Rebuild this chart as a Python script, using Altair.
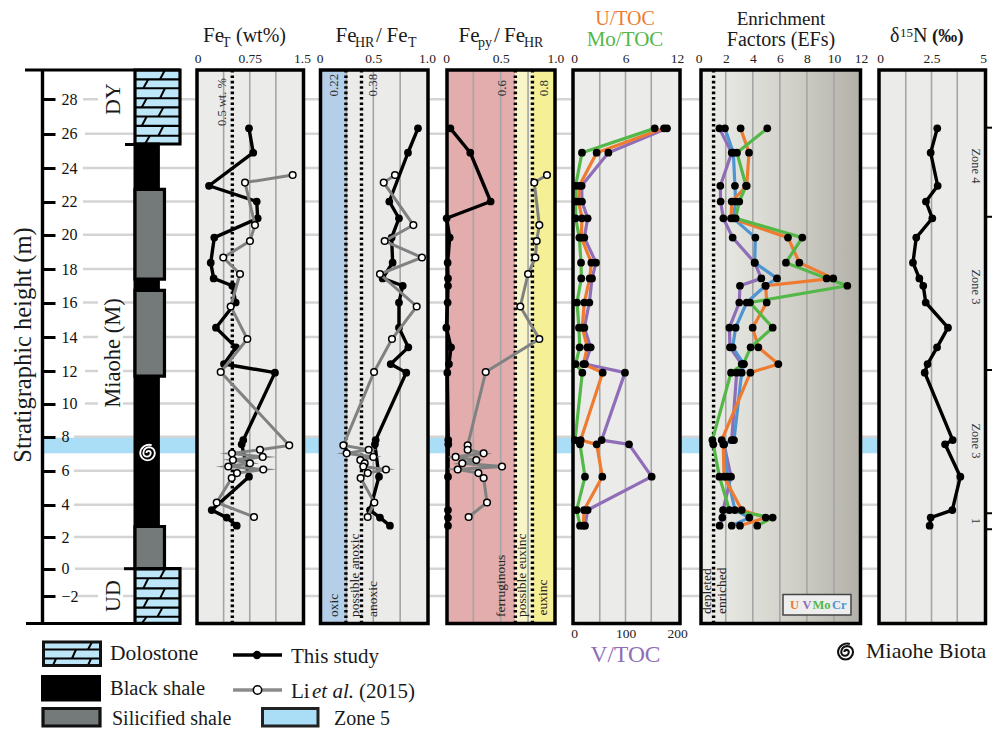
import altair as alt
import pandas as pd

TICKS_H = [-4, -2, 0, 2, 4, 6, 8, 10, 12, 14, 16, 18, 20, 22, 24, 26, 28, 29.7]
AXIS_H = [-2, 0, 2, 4, 6, 8, 10, 12, 14, 16, 18, 20, 22, 24, 26, 28]
GRID_START = [76, 75, 74, 74, 74, 74, 85, 85, 83, 83, 83, 83, 83, 83, 85, 83]

L = [26.31, 24.89, 22.94, 22.0, 20.99, 19.83, 18.37, 17.44, 17.0, 16.0, 14.54, 13.39,
     12.41, 11.9, 7.8, 7.55, 5.65, 3.67, 3.2, 2.7]
N = None
fet_black = [.739, .80, .165, .85, .864, .241, .19, .232, .50, .548, .265, .552, .38, 1.112, .657, .634, .739, .204, .419, .563]
hr_black = [.916, .823, N, .649, .739, .671, .680, .587, .774, .739, .739, .826, .662, .807, .522, .515, .553, .469, .562, .655]
py_black = [.040, .222, N, .408, .006, .034, .015, .018, .018, .015, .003, .046, .027, .012, .021, .021, .018, .018, .018, .018]
mo_toc = [9.40, .93, .19, .19, .19, .62, .82, .85, N, .35, .58, .66, .19, .97, .12, .70, 1.28, .31, N, .70]
u_toc = [10.49, 2.64, .62, .54, .93, .85, 2.02, 1.83, N, 1.20, .97, 1.55, 1.09, 3.34, .78, 2.64, 3.30, 1.17, N, 1.09]
v_toc = [180.6, 66.7, 14.9, 15.5, 26.5, 20.1, 42.7, 35, N, 29.8, 20.1, 32.4, 21.4, 99, 53.7, 106.8, 150.8, 26.5, N, 21.4]
ef_u = [3.10, 3.72, 3.55, 2.44, 2.39, 6.60, 7.44, 9.95, 4.95, 5.03, 3.99, 4.41, 5.89, 3.82, 1.70, 1.82, 1.87, 3.18, 4.95, 3.05]
ef_mo = [5.07, 2.83, 3.50, 3.00, 2.73, 7.66, 6.45, 9.46, 10.99, 3.79, 5.47, 3.84, 3.30, 2.39, 1.01, 1.08, 1.53, 2.27, 5.47, 4.33]
ef_v = [1.53, 2.44, 1.60, 1.62, 1.82, 2.51, 4.14, 4.63, 3.05, 3.00, 2.27, 2.31, 3.18, 2.81, 2.44, 1.87, 2.39, 1.80, 1.75, 1.55]
ef_cr = [1.94, 2.56, 2.68, 2.73, 2.56, 4.19, 4.14, 5.79, 4.93, 3.55, 2.73, 2.51, 3.35, 3.18, 2.61, 1.87, 2.14, 2.68, 3.74, 2.44]
d15n = [2.78, 2.46, 2.80, 2.23, 2.54, 1.76, 1.60, 1.91, 2.10, 2.22, 3.30, 2.77, 2.31, 2.17, 3.53, 3.16, 3.90, 3.51, 2.46, 2.41]

LI = [23.58, 23.13, 20.58, 19.63, 18.67, 17.70, 15.77, 13.88, 11.94, 7.49, 7.23, 7.02, 6.81, 6.63,
      6.44, 6.25, 6.07, 5.86, 5.57, 4.13, 3.24]
fet_li = [1.366, .682, .825, .753, .370, .610, .476, .715, .333, 1.317, .897, .495, .936, .509, .753, .442, .944, .567, .491, .276, .811]
hr_li = [.702, .597, .873, .606, .953, .562, .904, .674, .507, .221, .457, .252, .500, .379, .420, .407, .618, .448, .382, .510, .448]
py_li = [.923, .807, .853, .829, .817, .750, .679, .853, .363, .198, .198, .344, .088, .277, .149, .512, .107, .296, .344, .375, .207]

ZONE_TICKS = [26.35, 21.08, 12.06, 3.47, 2.48]
BIOTA_BAND = [7.94, 7.02]

# lithology: (top, bottom, width fraction)
dolo_units = [(29.7, 25.4, 1.0), (0, -4, 1.0)]
black_units = [(25.4, 0, 0.52)]
sil_units = [(22.72, 17.4, 0.655), (16.72, 11.69, 0.655), (2.65, 0, 0.655)]
dolo_rows_top = [29.7, 29.16, 28.64, 28.06, 27.53, 27.0, 26.45, 25.88, 25.4]
dolo_ticks_top = [.556, .185, .556, .15, .52, .15, .52, .22]
dolo_rows_bot = [0, -.70, -1.44, -2.17, -2.85, -3.52, -4]
dolo_ticks_bot = [.556, .185, .556, .185, .5, .15]

# ---------- style ----------
FONT = "Liberation Serif"
ORANGE, PURPLE, GREEN, BLUE = "#EE7B30", "#8F6DB7", "#54B848", "#4F95D2"
GREY = "#808282"
W, H = 984, 720
TOP, BOT = 62, 615.5
SPIRAL = ("M -0.05,0 A 0.2,0.2 0 0 1 0.35,0 A 0.35,0.35 0 0 1 -0.35,0 "
          "A 0.55,0.55 0 0 1 0.75,0 A 0.7,0.7 0 0 1 -0.65,0 A 0.85,0.85 0 0 1 0.45,-0.75")

YS = alt.Scale(domain=TICKS_H,
               range=[p - 8 for p in [623.3, 596, 568.7, 537, 504.7, 470.7, 436.7, 403.5, 371, 337,
                                      302.5, 269, 234.7, 201.5, 168, 133.7, 99.3, 70]],
               nice=False, zero=False)
ONE = alt.InlineData(values=[{"a": 1}])
layers = []


def sc(d0, d1, r0, r1):
    return alt.Scale(domain=[d0, d1], range=[r0 - 8, r1 - 8], nice=False, zero=False)


def yv(f="h:Q"):
    return alt.Y(f, scale=YS, axis=None)


def box(x0, x1, y0, y1, **kw):
    layers.append(alt.Chart(ONE).mark_rect(**kw).encode(
        x=alt.value(x0 - 8), x2=alt.value(x1 - 8), y=alt.value(y0 - 8), y2=alt.value(y1 - 8)))


def seg(x0, y0, x1, y1, color="black", w=2.5, **kw):
    layers.append(alt.Chart(ONE).mark_rule(color=color, strokeWidth=w, **kw).encode(
        x=alt.value(x0 - 8), x2=alt.value(x1 - 8), y=alt.value(y0 - 8), y2=alt.value(y1 - 8)))


def txt(s, x, y, size=18, color="#1a1a1a", angle=0, align="left", baseline="alphabetic", **kw):
    layers.append(alt.Chart(ONE).mark_text(text=s, font=FONT, fontSize=size, color=color, angle=angle,
                                           align=align, baseline=baseline, **kw).encode(
        x=alt.value(x - 8), y=alt.value(y - 8)))


def frame(x0, x1, y0=TOP + 8, y1=BOT + 8, w=3.5, stroke="black"):
    box(x0, x1, y0, y1, fill="transparent", stroke=stroke, strokeWidth=w)


def series(levels, vals, scale, color, w=3.2, axis=None, miter=False):
    df = pd.DataFrame([{"i": i, "h": h, "v": v} for i, (h, v) in enumerate(zip(levels, vals)) if v is not None])
    x = alt.X("v:Q", scale=scale, axis=axis)
    join = {"strokeJoin": "miter", "strokeMiterLimit": 12} if miter else {"strokeJoin": "round"}
    layers.append(alt.Chart(df).mark_line(color=color, strokeWidth=w, **join).encode(
        x=x, y=yv(), order="i:Q"))
    return df, alt.X("v:Q", scale=scale, axis=None)


def dots(df, x, white=False, size=60):
    if white:
        m = alt.Chart(df).mark_point(filled=True, fill="white", stroke="black", strokeWidth=1.5, size=44, opacity=1)
    else:
        m = alt.Chart(df).mark_point(filled=True, color="black", size=size, opacity=1)
    layers.append(m.encode(x=x, y=yv()))


def top_axis(values, expr="'' + datum.value", orient="top", offset=-57):
    return alt.Axis(orient=orient, values=values, offset=offset, labelExpr=expr, ticks=False, domain=False,
                    grid=False, title=None, labelFont=FONT, labelFontSize=13.5, labelColor="#222",
                    labelPadding=0, labelAngle=0, labelOverlap=False, labelFlush=False)


def grid(values, scale, axis_vals, expr="'' + datum.value"):
    d = pd.DataFrame({"g": values})
    layers.append(alt.Chart(d).mark_rule(color="#a5a5a5", strokeWidth=1.6).encode(
        x=alt.X("g:Q", scale=scale, axis=None), y=alt.value(TOP), y2=alt.value(BOT)))
    a = pd.DataFrame({"g": axis_vals})
    layers.append(alt.Chart(a).mark_point(opacity=0, size=1).encode(
        x=alt.X("g:Q", scale=scale, axis=top_axis(axis_vals, expr)), y=alt.value(TOP)))


def dotted(val, scale, w=3.4):
    d = pd.DataFrame({"g": [val]})
    layers.append(alt.Chart(d).mark_rule(color="black", strokeWidth=w, strokeDash=[2.6, 2.8]).encode(
        x=alt.X("g:Q", scale=scale, axis=None), y=alt.value(TOP), y2=alt.value(BOT)))


def zone_rect(a, b, scale, fill):
    d = pd.DataFrame({"a": [a], "b": [b]})
    layers.append(alt.Chart(d).mark_rect(fill=fill).encode(
        x=alt.X("a:Q", scale=scale, axis=None), x2="b:Q", y=alt.value(TOP), y2=alt.value(BOT)))


# ---------- background band and y axis ----------
band = pd.DataFrame({"h": [BIOTA_BAND[0]], "h2": [BIOTA_BAND[1]]})
layers.append(alt.Chart(band).mark_rect(fill="#A9DEF6").encode(
    x=alt.value(44 - 8), x2=alt.value(880 - 8),
    y=alt.Y("h:Q", scale=YS, axis=alt.Axis(
        orient="right", offset=(42 - 8) - W, values=AXIS_H, tickSize=13, tickWidth=3, tickColor="black",
        domainWidth=3.4, domainColor="black", labelPadding=6, labelFont=FONT, labelFontSize=16,
        labelColor="#111", grid=False, title=None, labelOverlap=False, format="d", labelFlush=False, zindex=1)),
    y2="h2:Q"))
gl = pd.DataFrame({"h": AXIS_H, "x0": [g - 8 for g in GRID_START]})
layers.append(alt.Chart(gl).mark_rule(color="#D4D4D4", strokeWidth=2.4).encode(
    x=alt.X("x0:Q", scale=None, axis=None), x2=alt.value(878 - 8), y=yv()))
box(98, 134, 78, 116, fill="white")
box(98, 123, 296, 410, fill="white")
box(98, 123, 578, 614, fill="white")

# ---------- lithology column ----------
LITH = sc(0, 1, 135, 180)


def lith_rect(units, fill, stroke=None, w=3.2):
    d = pd.DataFrame([{"t": t, "b": b, "l": 0, "r": f} for t, b, f in units])
    kw = {"stroke": stroke, "strokeWidth": w} if stroke else {}
    layers.append(alt.Chart(d).mark_rect(fill=fill, **kw).encode(
        x=alt.X("l:Q", scale=LITH, axis=None), x2="r:Q", y=yv("t:Q"), y2="b:Q"))


lith_rect(dolo_units, "#BDE7F8")
rows = []
for r in (dolo_rows_top[1:-1] + dolo_rows_bot[1:-1]):
    rows.append({"h": r})
layers.append(alt.Chart(pd.DataFrame(rows)).mark_rule(color="black", strokeWidth=2.2).encode(
    x=alt.value(135 - 8), x2=alt.value(180 - 8), y=yv()))
ticks = []
for bounds, xs in ((dolo_rows_top, dolo_ticks_top), (dolo_rows_bot, dolo_ticks_bot)):
    for k, x in enumerate(xs):
        ticks.append({"x0": x, "x1": x + .11, "h0": bounds[k + 1], "h1": bounds[k]})
layers.append(alt.Chart(pd.DataFrame(ticks)).mark_rule(color="black", strokeWidth=2).encode(
    x=alt.X("x0:Q", scale=LITH, axis=None), x2="x1:Q", y=yv("h0:Q"), y2="h1:Q"))
lith_rect(dolo_units, "transparent", "black", 3.2)
lith_rect(black_units, "black", "black", 3)
lith_rect(sil_units, "#747979", "black", 3.2)
seg(25, 70, 180, 70, w=3.2)
seg(26, 623.5, 180, 623.5, w=2.8)
seg(125, 144.5, 135, 144.5, w=3)
seg(124, 568.7, 135, 568.7, w=3)
layers.append(alt.Chart(ONE).mark_point(shape=SPIRAL, size=440, filled=False, stroke="white", strokeWidth=1.9, opacity=1).encode(
    x=alt.value(147 - 8), y=alt.value(453 - 8)))

# ---------- FeT ----------
FET = sc(0, 1.5, 197.5, 302)
box(197, 303.5, TOP + 8, BOT + 8, fill="#EBEBEA")
grid([.375, .75, 1.125], FET, [0, .75, 1.5])
dotted(.5, FET)
df, x = series(L, fet_black, FET, "black", 3.4); dots(df, x)
df, x = series(LI, fet_li, FET, GREY, 3, miter=True); dots(df, x, white=True)
frame(197, 303.5)

# ---------- FeHR/FeT ----------
HR = sc(0, 1, 319.6, 427)
RATIO = "datum.value === 1 ? '1.0' : '' + datum.value"
box(320.5, 428, TOP + 8, BOT + 8, fill="#EBEBEA")
zone_rect(0, .245, HR, "#B6CFE8")
grid([.25, .5, .75], HR, [0, .5, 1], RATIO)
dotted(.245, HR); dotted(.39, HR)
df, x = series(L, hr_black, HR, "black", 3.4); dots(df, x)
df, x = series(LI, hr_li, HR, GREY, 3, miter=True); dots(df, x, white=True)
frame(320.5, 428)

# ---------- Fepy/FeHR ----------
PY = sc(0, 1, 446, 555.4)
zone_rect(0, .634, PY, "#E2ADAC")
zone_rect(.634, .79, PY, "#F8F5C9")
zone_rect(.79, 1, PY, "#F5EF95")
grid([.25, .5, .75], PY, [0, .5, 1], RATIO)
dotted(.634, PY); dotted(.79, PY)
df, x = series(L, py_black, PY, "black", 3.4); dots(df, x)
df, x = series(LI, py_li, PY, GREY, 3, miter=True); dots(df, x, white=True)
frame(447, 555)

# ---------- U, Mo, V / TOC ----------
TOC = sc(0, 12, 574, 677)
VT = sc(0, 200, 574, 677)
box(573, 680, TOP + 8, BOT + 8, fill="#EBEBEA")
grid([3, 6, 9], TOC, [0, 6, 12])
vdf, vx = series(L, v_toc, VT, PURPLE, axis=top_axis([0, 100, 200], orient="bottom", offset=626 - 8 - H))
udf, ux = series(L, u_toc, TOC, ORANGE)
mdf, mx = series(L, mo_toc, TOC, GREEN)
dots(vdf, vx); dots(udf, ux); dots(mdf, mx)
frame(573, 680)

# ---------- enrichment factors ----------
EF = sc(0, 12, 698.7, 861)
grad = alt.Gradient(gradient="linear", x1=0, x2=1, y1=0, y2=0,
                    stops=[alt.GradientStop(color="#EEEEEC", offset=0),
                           alt.GradientStop(color="#DFDFD9", offset=.3),
                           alt.GradientStop(color="#CFCEC7", offset=.6),
                           alt.GradientStop(color="#B2B0A7", offset=1)])
box(701, 860.5, TOP + 8, BOT + 8, fill=grad)
grid([2, 4, 6, 8, 10], EF, [0, 2, 4, 6, 8, 10, 12])
dotted(1.1, EF)
sets = []
for vals, col in ((ef_v, PURPLE), (ef_cr, BLUE), (ef_u, ORANGE), (ef_mo, GREEN)):
    sets.append(series(L, vals, EF, col))
for d, x in sets:
    dots(d, x)
frame(701, 860.5)

# ---------- d15N ----------
NS = sc(0, 5, 880, 983)
box(879, 985.5, TOP + 8, BOT + 8, fill="#EBEBEA")
grid([1.25, 2.5, 3.75], NS, [0, 2.5, 5])
df, x = series(L, d15n, NS, "black", 3.4); dots(df, x)
frame(879, 985.5)
zt = pd.DataFrame({"h": ZONE_TICKS})
layers.append(alt.Chart(zt).mark_rule(color="black", strokeWidth=2).encode(
    x=alt.value(986 - 8), x2=alt.value(992 - 8), y=yv()))

# ---------- titles ----------
txt("Fe", 203, 42, 21); txt("T", 222, 47, 14); txt("(wt%)", 236, 42, 20)
txt("Fe", 335.5, 42, 21); txt("HR", 355, 47, 14); txt("/", 376, 42, 21); txt("Fe", 386.5, 42, 21); txt("T", 408, 47, 14)
txt("Fe", 458.5, 42, 21); txt("py", 478, 47, 14); txt("/", 494, 42, 21); txt("Fe", 504, 42, 21); txt("HR", 524, 47, 14)
txt("U/TOC", 625, 24.5, 20, ORANGE, align="center")
txt("Mo/TOC", 625, 46, 21, GREEN, align="center")
txt("V/TOC", 625.5, 661.5, 23.5, PURPLE, align="center")
txt("Enrichment", 781, 24.5, 19, align="center")
txt("Factors (EFs)", 781, 46, 20, align="center")
txt("\u03b4", 890, 42, 20); txt("15", 900, 36.5, 13); txt("N", 913, 42, 20); txt("(\u2030)", 932, 42, 19, fontWeight="bold")

# rotated texts
txt("Stratigraphic height (m)", 24, 345, 24.5, angle=270, align="center", baseline="middle")
txt("Miaohe (M)", 113, 353, 22.5, angle=270, align="center", baseline="middle")
txt("DY", 113, 99, 22, angle=270, align="center", baseline="middle")
txt("UD", 113, 596, 22, angle=270, align="center", baseline="middle")
for s, xx, yy, sz in (("0.5 wt. %", 222, 102, 12.5), ("0.22", 334, 85, 13), ("0.38", 373, 85, 13),
                      ("0.6", 501.5, 88, 13), ("0.8", 544, 88, 13)):
    txt(s, xx, yy, sz, "#333", angle=270, align="center", baseline="middle")
for s, xx, yy in (("oxic", 334, 617), ("possible anoxic", 355, 617), ("anoxic", 373, 617),
                  ("ferruginous", 501, 617), ("possible euxinc", 521.5, 617), ("euxinc", 542.5, 615.5),
                  ("depleted", 706.5, 614), ("enriched", 722, 614)):
    txt(s, xx, yy, 13.5, "#222", angle=270, baseline="middle")
for s, yy in (("Zone 4", 166), ("Zone 3", 287), ("Zone 3", 441), ("1", 521)):
    txt(s, 976, yy, 12.5, "#333", angle=90, align="center", baseline="middle")

# EF legend
box(783, 851, 594.5, 615, fill="#EEEEEE", stroke="#444", strokeWidth=1.5)
for s, xx, c in (("U", 790, ORANGE), ("V", 802.5, PURPLE), ("Mo", 812.5, GREEN), ("Cr", 832, BLUE)):
    txt(s, xx, 608.5, 12.5, c, fontWeight="bold")

# ---------- bottom legend ----------
box(43.5, 100.5, 642, 665.5, fill="#BDE7F8")
seg(43.5, 649.5, 100.5, 649.5, w=2); seg(43.5, 658.5, 100.5, 658.5, w=2)
for a, b, c, d in ((88, 649.5, 92, 642), (72, 658.5, 76, 649.5), (53, 665.5, 56, 658.5), (88, 665.5, 91, 658.5)):
    seg(a, b, c, d, w=2)
box(43.5, 100.5, 642, 665.5, fill="transparent", stroke="#111", strokeWidth=3)
box(41, 101, 675, 701.5, fill="black")
box(43, 100, 708.5, 726, fill="#747979", stroke="#111", strokeWidth=3.2)
box(262.5, 318, 708.5, 726, fill="#A9DEF6", stroke="#222", strokeWidth=3)
txt("Dolostone", 110, 660, 21.5)
txt("Black shale", 110, 695, 20.5)
txt("Silicified shale", 112, 725, 20)
txt("Zone 5", 334, 725, 20)
seg(233, 655, 282, 655, w=3.4)
seg(233, 690, 282, 690, "#8A8C8C", w=3.4)
layers.append(alt.Chart(ONE).mark_point(filled=True, color="black", size=70, opacity=1).encode(
    x=alt.value(257 - 8), y=alt.value(655 - 8)))
layers.append(alt.Chart(ONE).mark_point(filled=True, fill="white", stroke="black", strokeWidth=1.5, size=70, opacity=1).encode(
    x=alt.value(257.5 - 8), y=alt.value(690 - 8)))
txt("This study", 291, 663, 21)
txt("Li", 291, 698, 21); txt("et al.", 312, 698, 21, fontStyle="italic"); txt("(2015)", 359, 698, 21)
layers.append(alt.Chart(ONE).mark_point(shape=SPIRAL, size=460, filled=False, stroke="#111", strokeWidth=2.1, opacity=1).encode(
    x=alt.value(845 - 8), y=alt.value(652 - 8)))
txt("Miaohe Biota", 866, 658, 22)

chart = alt.layer(*layers).resolve_scale(x="independent").resolve_axis(x="independent", y="independent").properties(
    width=W, height=H, padding=0, autosize=alt.AutoSizeParams(type="none"),
    background="white").configure_view(stroke=None)

chart.save("out.html", embed_options={"renderer": "svg", "actions": False})
